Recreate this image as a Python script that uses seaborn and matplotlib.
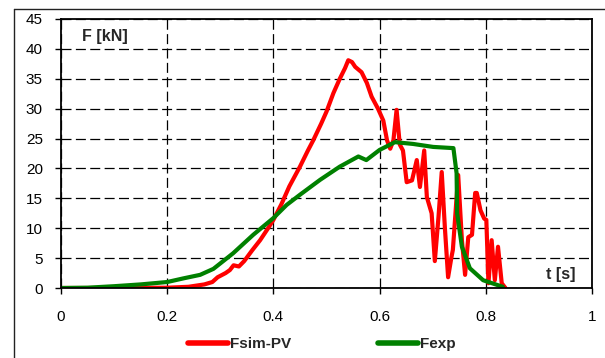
import seaborn as sns
import matplotlib.pyplot as plt
import matplotlib.lines as mlines
import pandas as pd

# simulated force (Fsim-PV)
t_sim = [0, 0.1, 0.2, 0.24, 0.27, 0.285, 0.295, 0.31, 0.318, 0.325, 0.335, 0.345,
         0.36, 0.375, 0.39, 0.4, 0.415, 0.43, 0.45, 0.465, 0.475, 0.49, 0.5, 0.513,
         0.525, 0.535, 0.541, 0.548, 0.554, 0.566, 0.576, 0.585, 0.597, 0.607, 0.614,
         0.62, 0.626, 0.632, 0.638, 0.644, 0.651, 0.661, 0.67, 0.676, 0.684, 0.689,
         0.698, 0.704, 0.711, 0.717, 0.723, 0.729, 0.735, 0.738, 0.748, 0.755, 0.761,
         0.767, 0.774, 0.78, 0.783, 0.79, 0.797, 0.801, 0.805, 0.811, 0.817, 0.823,
         0.83, 0.837]
f_sim = [0, 0, 0.05, 0.2, 0.6, 1.0, 1.8, 2.5, 3.0, 3.8, 3.6, 4.5,
         6.3, 8.0, 10.0, 11.4, 14.0, 17.0, 20.3, 23.0, 24.7, 27.5, 29.5, 32.6,
         35.0, 36.8, 38.1, 37.8, 37.0, 36.1, 34.3, 32.0, 30.0, 28.0, 24.7,
         23.3, 24.7, 29.8, 24.0, 23.0, 17.7, 18.0, 21.4, 16.9, 23.0, 15.2,
         12.5, 4.5, 12.0, 19.4, 10.0, 1.8, 5.0, 6.4, 18.9, 8.0, 2.2,
         8.5, 8.9, 15.9, 15.9, 13.0, 11.6, 11.4, 0.8, 8.0, 1.3, 6.9,
         0.8, 0]

# experimental force (Fexp)
t_exp = [0, 0.05, 0.1, 0.15, 0.2, 0.23, 0.262, 0.287, 0.324, 0.362, 0.4, 0.425, 0.45,
         0.488, 0.525, 0.56, 0.575, 0.6, 0.629, 0.663, 0.701, 0.739, 0.745, 0.746,
         0.755, 0.77, 0.795, 0.832]
f_exp = [0, 0.05, 0.3, 0.6, 1.0, 1.6, 2.2, 3.2, 5.8, 8.9, 11.7, 13.9, 15.6,
         18.1, 20.3, 22.0, 21.4, 23.1, 24.4, 24.1, 23.6, 23.4, 19.2, 12.5,
         6.9, 3.3, 1.3, 0.2]

labels = ["Fsim-PV", "Fexp"]
colors = ["#ff0000", "#008000"]

df = pd.concat([
    pd.DataFrame({"t": t_sim, "F": f_sim, "serie": labels[0]}),
    pd.DataFrame({"t": t_exp, "F": f_exp, "serie": labels[1]}),
], ignore_index=True)

sns.set_style("white")
plt.rcParams["font.family"] = ["Liberation Sans", "DejaVu Sans"]

fig = plt.figure(figsize=(6.05, 3.58), dpi=100)
ax = fig.add_axes([61 / 605, 1 - 288 / 358, 531 / 605, 269 / 358])

sns.lineplot(data=df, x="t", y="F", hue="serie", palette=dict(zip(labels, colors)),
             sort=False, estimator=None, linewidth=3, legend=False, ax=ax,
             solid_capstyle="round")

ax.set_xlim(0, 1)
ax.set_ylim(0, 45)
ax.set_xticks([0, 0.2, 0.4, 0.6, 0.8, 1])
ax.set_xticklabels(["0", "0.2", "0.4", "0.6", "0.8", "1"])
ax.set_yticks(range(0, 50, 5))
ax.set_xlabel("")
ax.set_ylabel("")
ax.grid(True, color="black", linestyle=(0, (8, 3.5)), linewidth=0.9)
ax.tick_params(axis="x", direction="out", length=4, width=1, pad=12, labelsize=11, colors="black")
ax.tick_params(axis="y", direction="out", length=4, width=1, pad=9, labelsize=11, colors="black")
ax.tick_params(bottom=True, left=True)
for s in ax.spines.values():
    s.set_color("black")
    s.set_linewidth(1.3)

ax.text(0.04, 42.1, "F [kN]", fontsize=11.5, fontweight="bold", ha="left", va="center")
ax.text(0.968, 2.2, "t [s]", fontsize=11.5, fontweight="bold", ha="right", va="center")

handles = [mlines.Line2D([], [], color=c, linewidth=4, solid_capstyle="round") for c in colors]
fig.legend(handles, labels, loc="center", bbox_to_anchor=(0.532, 0.039), ncol=2,
           frameon=False, handlelength=2.6, handletextpad=0.15, columnspacing=5.7,
           prop={"weight": "bold", "size": 11})

# outer chart border (partly cut off)
fig.add_artist(mlines.Line2D([14 / 605, 14 / 605], [0, 1 - 9 / 358], color="#222222",
                             linewidth=1, transform=fig.transFigure))
fig.add_artist(mlines.Line2D([14 / 605, 1], [1 - 9 / 358, 1 - 9 / 358], color="#222222",
                             linewidth=1, transform=fig.transFigure))

fig.savefig("out.png", dpi=100)
